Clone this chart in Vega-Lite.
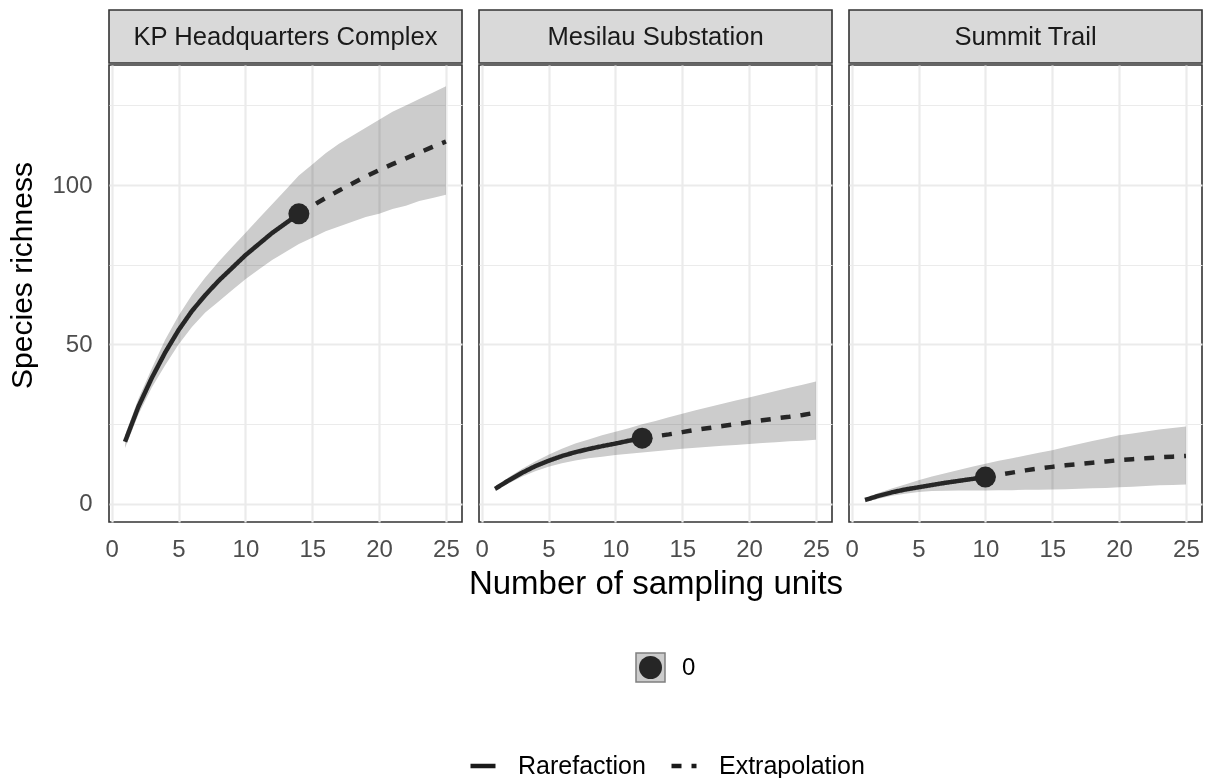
{
  "$schema": "https://vega.github.io/schema/vega-lite/v6.json",
  "padding": {"left": 7, "top": 9, "right": 5, "bottom": 0},
  "background": "white",
  "datasets": {
    "curves": [
      {"site": "KP Headquarters Complex", "m": 1, "qD": 19.5, "lo": 17.5, "hi": 21.5, "method": "Rarefaction"},
      {"site": "KP Headquarters Complex", "m": 2, "qD": 30.5, "lo": 28, "hi": 33, "method": "Rarefaction"},
      {"site": "KP Headquarters Complex", "m": 3, "qD": 39.5, "lo": 36.5, "hi": 42.5, "method": "Rarefaction"},
      {"site": "KP Headquarters Complex", "m": 4, "qD": 47.5, "lo": 43.5, "hi": 51.5, "method": "Rarefaction"},
      {"site": "KP Headquarters Complex", "m": 5, "qD": 54.5, "lo": 50, "hi": 59, "method": "Rarefaction"},
      {"site": "KP Headquarters Complex", "m": 6, "qD": 60.5, "lo": 55.5, "hi": 65.5, "method": "Rarefaction"},
      {"site": "KP Headquarters Complex", "m": 7, "qD": 65.5, "lo": 60, "hi": 71, "method": "Rarefaction"},
      {"site": "KP Headquarters Complex", "m": 8, "qD": 70, "lo": 63.5, "hi": 76, "method": "Rarefaction"},
      {"site": "KP Headquarters Complex", "m": 9, "qD": 74, "lo": 67, "hi": 80.5, "method": "Rarefaction"},
      {"site": "KP Headquarters Complex", "m": 10, "qD": 78, "lo": 70.5, "hi": 85, "method": "Rarefaction"},
      {"site": "KP Headquarters Complex", "m": 11, "qD": 81.5, "lo": 73.5, "hi": 89.5, "method": "Rarefaction"},
      {"site": "KP Headquarters Complex", "m": 12, "qD": 85, "lo": 76.5, "hi": 94, "method": "Rarefaction"},
      {"site": "KP Headquarters Complex", "m": 13, "qD": 88, "lo": 79, "hi": 98.5, "method": "Rarefaction"},
      {"site": "KP Headquarters Complex", "m": 14, "qD": 91, "lo": 81.5, "hi": 103, "method": "Rarefaction"},
      {"site": "KP Headquarters Complex", "m": 14, "qD": 91, "lo": 81.5, "hi": 103, "method": "Observed"},
      {"site": "KP Headquarters Complex", "m": 14, "qD": 91, "lo": 81.5, "hi": 103, "method": "Extrapolation"},
      {"site": "KP Headquarters Complex", "m": 15, "qD": 93.5, "lo": 83.5, "hi": 106.5, "method": "Extrapolation"},
      {"site": "KP Headquarters Complex", "m": 16, "qD": 96, "lo": 85.5, "hi": 110, "method": "Extrapolation"},
      {"site": "KP Headquarters Complex", "m": 17, "qD": 98.3, "lo": 87, "hi": 113, "method": "Extrapolation"},
      {"site": "KP Headquarters Complex", "m": 18, "qD": 100.5, "lo": 88.5, "hi": 115.5, "method": "Extrapolation"},
      {"site": "KP Headquarters Complex", "m": 19, "qD": 102.7, "lo": 90, "hi": 118, "method": "Extrapolation"},
      {"site": "KP Headquarters Complex", "m": 20, "qD": 104.7, "lo": 91, "hi": 120.5, "method": "Extrapolation"},
      {"site": "KP Headquarters Complex", "m": 21, "qD": 106.6, "lo": 92.5, "hi": 123, "method": "Extrapolation"},
      {"site": "KP Headquarters Complex", "m": 22, "qD": 108.4, "lo": 93.5, "hi": 125, "method": "Extrapolation"},
      {"site": "KP Headquarters Complex", "m": 23, "qD": 110.2, "lo": 95, "hi": 127, "method": "Extrapolation"},
      {"site": "KP Headquarters Complex", "m": 24, "qD": 112, "lo": 96, "hi": 129, "method": "Extrapolation"},
      {"site": "KP Headquarters Complex", "m": 25, "qD": 113.7, "lo": 97, "hi": 131, "method": "Extrapolation"},

      {"site": "Mesilau Substation", "m": 1, "qD": 4.7, "lo": 4.0, "hi": 5.4, "method": "Rarefaction"},
      {"site": "Mesilau Substation", "m": 2, "qD": 7.3, "lo": 6.4, "hi": 8.3, "method": "Rarefaction"},
      {"site": "Mesilau Substation", "m": 3, "qD": 9.7, "lo": 8.5, "hi": 10.9, "method": "Rarefaction"},
      {"site": "Mesilau Substation", "m": 4, "qD": 11.8, "lo": 10.2, "hi": 13.3, "method": "Rarefaction"},
      {"site": "Mesilau Substation", "m": 5, "qD": 13.5, "lo": 11.6, "hi": 15.4, "method": "Rarefaction"},
      {"site": "Mesilau Substation", "m": 6, "qD": 15.0, "lo": 12.7, "hi": 17.3, "method": "Rarefaction"},
      {"site": "Mesilau Substation", "m": 7, "qD": 16.2, "lo": 13.6, "hi": 18.9, "method": "Rarefaction"},
      {"site": "Mesilau Substation", "m": 8, "qD": 17.2, "lo": 14.3, "hi": 20.2, "method": "Rarefaction"},
      {"site": "Mesilau Substation", "m": 9, "qD": 18.1, "lo": 14.8, "hi": 21.5, "method": "Rarefaction"},
      {"site": "Mesilau Substation", "m": 10, "qD": 18.9, "lo": 15.3, "hi": 22.6, "method": "Rarefaction"},
      {"site": "Mesilau Substation", "m": 11, "qD": 19.8, "lo": 15.7, "hi": 23.7, "method": "Rarefaction"},
      {"site": "Mesilau Substation", "m": 12, "qD": 20.6, "lo": 16.1, "hi": 25.0, "method": "Rarefaction"},
      {"site": "Mesilau Substation", "m": 12, "qD": 20.6, "lo": 16.1, "hi": 25.0, "method": "Observed"},
      {"site": "Mesilau Substation", "m": 12, "qD": 20.6, "lo": 16.1, "hi": 25.0, "method": "Extrapolation"},
      {"site": "Mesilau Substation", "m": 13, "qD": 21.2, "lo": 16.5, "hi": 26.0, "method": "Extrapolation"},
      {"site": "Mesilau Substation", "m": 14, "qD": 21.8, "lo": 16.9, "hi": 27.2, "method": "Extrapolation"},
      {"site": "Mesilau Substation", "m": 15, "qD": 22.5, "lo": 17.3, "hi": 28.3, "method": "Extrapolation"},
      {"site": "Mesilau Substation", "m": 16, "qD": 23.2, "lo": 17.6, "hi": 29.4, "method": "Extrapolation"},
      {"site": "Mesilau Substation", "m": 17, "qD": 23.8, "lo": 17.9, "hi": 30.4, "method": "Extrapolation"},
      {"site": "Mesilau Substation", "m": 18, "qD": 24.4, "lo": 18.2, "hi": 31.4, "method": "Extrapolation"},
      {"site": "Mesilau Substation", "m": 19, "qD": 25.0, "lo": 18.5, "hi": 32.4, "method": "Extrapolation"},
      {"site": "Mesilau Substation", "m": 20, "qD": 25.6, "lo": 18.8, "hi": 33.4, "method": "Extrapolation"},
      {"site": "Mesilau Substation", "m": 21, "qD": 26.2, "lo": 19.1, "hi": 34.4, "method": "Extrapolation"},
      {"site": "Mesilau Substation", "m": 22, "qD": 26.8, "lo": 19.3, "hi": 35.4, "method": "Extrapolation"},
      {"site": "Mesilau Substation", "m": 23, "qD": 27.3, "lo": 19.6, "hi": 36.4, "method": "Extrapolation"},
      {"site": "Mesilau Substation", "m": 24, "qD": 27.9, "lo": 19.8, "hi": 37.4, "method": "Extrapolation"},
      {"site": "Mesilau Substation", "m": 25, "qD": 28.6, "lo": 20.1, "hi": 38.4, "method": "Extrapolation"},

      {"site": "Summit Trail", "m": 1, "qD": 1.2, "lo": 0.6, "hi": 1.8, "method": "Rarefaction"},
      {"site": "Summit Trail", "m": 2, "qD": 2.5, "lo": 1.6, "hi": 3.4, "method": "Rarefaction"},
      {"site": "Summit Trail", "m": 3, "qD": 3.6, "lo": 2.5, "hi": 4.8, "method": "Rarefaction"},
      {"site": "Summit Trail", "m": 4, "qD": 4.5, "lo": 3.2, "hi": 6.1, "method": "Rarefaction"},
      {"site": "Summit Trail", "m": 5, "qD": 5.2, "lo": 3.7, "hi": 7.4, "method": "Rarefaction"},
      {"site": "Summit Trail", "m": 6, "qD": 5.9, "lo": 4.0, "hi": 8.6, "method": "Rarefaction"},
      {"site": "Summit Trail", "m": 7, "qD": 6.6, "lo": 4.1, "hi": 9.6, "method": "Rarefaction"},
      {"site": "Summit Trail", "m": 8, "qD": 7.2, "lo": 4.2, "hi": 10.6, "method": "Rarefaction"},
      {"site": "Summit Trail", "m": 9, "qD": 7.8, "lo": 4.2, "hi": 11.6, "method": "Rarefaction"},
      {"site": "Summit Trail", "m": 10, "qD": 8.4, "lo": 4.2, "hi": 12.6, "method": "Rarefaction"},
      {"site": "Summit Trail", "m": 10, "qD": 8.4, "lo": 4.2, "hi": 12.6, "method": "Observed"},
      {"site": "Summit Trail", "m": 10, "qD": 8.4, "lo": 4.2, "hi": 12.6, "method": "Extrapolation"},
      {"site": "Summit Trail", "m": 11, "qD": 9.1, "lo": 4.3, "hi": 13.5, "method": "Extrapolation"},
      {"site": "Summit Trail", "m": 12, "qD": 9.8, "lo": 4.3, "hi": 14.3, "method": "Extrapolation"},
      {"site": "Summit Trail", "m": 13, "qD": 10.5, "lo": 4.4, "hi": 15.2, "method": "Extrapolation"},
      {"site": "Summit Trail", "m": 14, "qD": 11.1, "lo": 4.4, "hi": 16.0, "method": "Extrapolation"},
      {"site": "Summit Trail", "m": 15, "qD": 11.6, "lo": 4.5, "hi": 16.8, "method": "Extrapolation"},
      {"site": "Summit Trail", "m": 16, "qD": 12.1, "lo": 4.6, "hi": 17.8, "method": "Extrapolation"},
      {"site": "Summit Trail", "m": 17, "qD": 12.5, "lo": 4.7, "hi": 18.8, "method": "Extrapolation"},
      {"site": "Summit Trail", "m": 18, "qD": 12.9, "lo": 4.9, "hi": 19.7, "method": "Extrapolation"},
      {"site": "Summit Trail", "m": 19, "qD": 13.3, "lo": 5.0, "hi": 20.6, "method": "Extrapolation"},
      {"site": "Summit Trail", "m": 20, "qD": 13.7, "lo": 5.2, "hi": 21.5, "method": "Extrapolation"},
      {"site": "Summit Trail", "m": 21, "qD": 14.0, "lo": 5.4, "hi": 22.1, "method": "Extrapolation"},
      {"site": "Summit Trail", "m": 22, "qD": 14.3, "lo": 5.6, "hi": 22.7, "method": "Extrapolation"},
      {"site": "Summit Trail", "m": 23, "qD": 14.6, "lo": 5.8, "hi": 23.3, "method": "Extrapolation"},
      {"site": "Summit Trail", "m": 24, "qD": 14.8, "lo": 5.9, "hi": 23.8, "method": "Extrapolation"},
      {"site": "Summit Trail", "m": 25, "qD": 15.0, "lo": 6.1, "hi": 24.3, "method": "Extrapolation"}
    ]
  },
  "spacing": 4,
  "hconcat": [
    {
      "spacing": 0,
      "vconcat": [
        {
          "width": 353, "height": 53,
          "view": {"fill": "#d9d9d9", "stroke": "#333333", "strokeWidth": 1.6},
          "data": {"values": [{"site": "KP Headquarters Complex"}]},
          "mark": {"type": "text", "font": "Liberation Sans", "fontSize": 25.6, "color": "#1a1a1a"},
          "encoding": {"text": {"field": "site"}}
        },
        {
          "width": 353, "height": 457,
          "view": {"stroke": "#333333", "strokeWidth": 1.6},
          "data": {"name": "curves"},
          "transform": [{"filter": "datum.site === 'KP Headquarters Complex'"}],
          "layer": [
            {
              "mark": {"type": "area", "blend": "multiply"},
              "encoding": {
                "x": {"field": "m", "type": "quantitative", "title": null, "scale": {"domain": [-0.2, 26.2], "nice": false, "zero": false}, "axis": {"values": [0, 2.5, 5, 7.5, 10, 12.5, 15, 17.5, 20, 22.5, 25]}},
                "y": {"field": "lo", "type": "quantitative", "title": "Species richness", "scale": {"domain": [-5.7, 137.7], "nice": false, "zero": false}, "axis": {"values": [0, 25, 50, 75, 100, 125], "titleY": 210}},
                "y2": {"field": "hi"},
                "fill": {"datum": "0", "type": "nominal", "scale": {"range": ["#cccccc"]},
                  "legend": {"orient": "none", "legendX": 526, "legendY": 642, "title": null, "symbolType": "square", "symbolSize": 841, "labelExpr": "''", "labelFontSize": 24,
                    "encode": {"symbols": {"update": {"fill": {"value": "#cccccc"}, "stroke": {"value": "#7f7f7f"}, "strokeWidth": {"value": 1.5}, "opacity": {"value": 1}}}}}}
              }
            },
            {
              "transform": [{"filter": "datum.method !== 'Observed'"}],
              "mark": {"type": "line", "strokeWidth": 4.5, "color": "#262626"},
              "encoding": {
                "x": {"field": "m", "type": "quantitative", "title": null, "scale": {"domain": [-0.2, 26.2], "nice": false, "zero": false}},
                "y": {"field": "qD", "type": "quantitative", "title": "Species richness", "scale": {"domain": [-5.7, 137.7], "nice": false, "zero": false}},
                "strokeDash": {"field": "method", "type": "nominal", "scale": {"domain": ["Rarefaction", "Extrapolation"], "range": [[1, 0], [10, 10]]},
                  "legend": {"orient": "none", "direction": "horizontal", "legendX": 359, "legendY": 741, "title": null, "symbolType": "stroke", "symbolSize": 625, "symbolStrokeWidth": 4.5, "symbolStrokeColor": "#1a1a1a", "labelOffset": 20, "columnPadding": 16, "labelFontSize": 25,
                    "encode": {"symbols": {"update": {"stroke": {"value": "#1a1a1a"}, "strokeWidth": {"value": 4.5}}}}}}
              }
            },
            {
              "transform": [{"filter": "datum.method === 'Observed'"}],
              "mark": {"type": "point", "filled": true, "size": 441, "color": "#262626", "opacity": 1},
              "encoding": {
                "x": {"field": "m", "type": "quantitative", "title": null, "scale": {"domain": [-0.2, 26.2], "nice": false, "zero": false}},
                "y": {"field": "qD", "type": "quantitative", "title": "Species richness", "scale": {"domain": [-5.7, 137.7], "nice": false, "zero": false}},
                "shape": {"field": "method", "type": "nominal", "scale": {"range": ["circle"]},
                  "legend": {"orient": "none", "legendX": 529, "legendY": 645, "title": null, "symbolSize": 529, "labelExpr": "'0'", "labelOffset": 19, "labelFontSize": 24,
                    "encode": {"symbols": {"update": {"shape": {"value": "M-1,0A1,1 0 1,1 1,0A1,1 0 1,1 -1,0Z M-1.25,-0.17H1.25V0.17H-1.25Z"}, "fill": {"value": "#262626"}, "strokeWidth": {"value": 0}, "opacity": {"value": 1}}}}}}
              }
            }
          ]
        }
      ]
    },
    {
      "spacing": 0,
      "hconcat": [
        {
          "spacing": 0,
          "vconcat": [
            {
              "width": 353, "height": 53,
              "view": {"fill": "#d9d9d9", "stroke": "#333333", "strokeWidth": 1.6},
              "data": {"values": [{"site": "Mesilau Substation"}]},
              "mark": {"type": "text", "font": "Liberation Sans", "fontSize": 25.6, "color": "#1a1a1a"},
              "encoding": {"text": {"field": "site"}}
            },
            {
              "width": 353, "height": 457,
              "view": {"stroke": "#333333", "strokeWidth": 1.6},
              "data": {"name": "curves"},
              "transform": [{"filter": "datum.site === 'Mesilau Substation'"}],
              "layer": [
                {
                  "mark": {"type": "area", "blend": "multiply", "fill": "#cccccc"},
                  "encoding": {
                    "x": {"field": "m", "type": "quantitative", "title": "Number of sampling units", "scale": {"domain": [-0.2, 26.2], "nice": false, "zero": false}, "axis": {"values": [0, 2.5, 5, 7.5, 10, 12.5, 15, 17.5, 20, 22.5, 25]}},
                    "y": {"field": "lo", "type": "quantitative", "title": null, "scale": {"domain": [-5.7, 137.7], "nice": false, "zero": false}, "axis": {"values": [0, 25, 50, 75, 100, 125], "labels": false, "ticks": false}},
                    "y2": {"field": "hi"}
                  }
                },
                {
                  "transform": [{"filter": "datum.method !== 'Observed'"}],
                  "mark": {"type": "line", "strokeWidth": 4.5, "color": "#262626"},
                  "encoding": {
                    "x": {"field": "m", "type": "quantitative", "title": "Number of sampling units", "scale": {"domain": [-0.2, 26.2], "nice": false, "zero": false}},
                    "y": {"field": "qD", "type": "quantitative", "title": null, "scale": {"domain": [-5.7, 137.7], "nice": false, "zero": false}},
                    "strokeDash": {"field": "method", "type": "nominal", "scale": {"domain": ["Rarefaction", "Extrapolation"], "range": [[1, 0], [10, 10]]},
                      "legend": {"orient": "none", "direction": "horizontal", "legendX": 359, "legendY": 741, "title": null, "symbolType": "stroke", "symbolSize": 625, "symbolStrokeWidth": 4.5, "symbolStrokeColor": "#1a1a1a", "labelOffset": 20, "columnPadding": 16, "labelFontSize": 25,
                        "encode": {"symbols": {"update": {"stroke": {"value": "#1a1a1a"}, "strokeWidth": {"value": 4.5}}}}}}
                  }
                },
                {
                  "transform": [{"filter": "datum.method === 'Observed'"}],
                  "mark": {"type": "point", "filled": true, "size": 441, "color": "#262626", "opacity": 1, "shape": "circle"},
                  "encoding": {
                    "x": {"field": "m", "type": "quantitative", "title": "Number of sampling units", "scale": {"domain": [-0.2, 26.2], "nice": false, "zero": false}},
                    "y": {"field": "qD", "type": "quantitative", "title": null, "scale": {"domain": [-5.7, 137.7], "nice": false, "zero": false}}
                  }
                }
              ]
            }
          ]
        },
        {
          "spacing": 0,
          "vconcat": [
            {
              "width": 353, "height": 53,
              "view": {"fill": "#d9d9d9", "stroke": "#333333", "strokeWidth": 1.6},
              "data": {"values": [{"site": "Summit Trail"}]},
              "mark": {"type": "text", "font": "Liberation Sans", "fontSize": 25.6, "color": "#1a1a1a"},
              "encoding": {"text": {"field": "site"}}
            },
            {
              "width": 353, "height": 457,
              "view": {"stroke": "#333333", "strokeWidth": 1.6},
              "data": {"name": "curves"},
              "transform": [{"filter": "datum.site === 'Summit Trail'"}],
              "layer": [
                {
                  "mark": {"type": "area", "blend": "multiply", "fill": "#cccccc"},
                  "encoding": {
                    "x": {"field": "m", "type": "quantitative", "title": null, "scale": {"domain": [-0.2, 26.2], "nice": false, "zero": false}, "axis": {"values": [0, 2.5, 5, 7.5, 10, 12.5, 15, 17.5, 20, 22.5, 25]}},
                    "y": {"field": "lo", "type": "quantitative", "title": null, "scale": {"domain": [-5.7, 137.7], "nice": false, "zero": false}, "axis": {"values": [0, 25, 50, 75, 100, 125], "labels": false, "ticks": false}},
                    "y2": {"field": "hi"}
                  }
                },
                {
                  "transform": [{"filter": "datum.method !== 'Observed'"}],
                  "mark": {"type": "line", "strokeWidth": 4.5, "color": "#262626"},
                  "encoding": {
                    "x": {"field": "m", "type": "quantitative", "title": null, "scale": {"domain": [-0.2, 26.2], "nice": false, "zero": false}},
                    "y": {"field": "qD", "type": "quantitative", "title": null, "scale": {"domain": [-5.7, 137.7], "nice": false, "zero": false}},
                    "strokeDash": {"field": "method", "type": "nominal", "scale": {"domain": ["Rarefaction", "Extrapolation"], "range": [[1, 0], [10, 10]]},
                      "legend": {"orient": "none", "direction": "horizontal", "legendX": 359, "legendY": 741, "title": null, "symbolType": "stroke", "symbolSize": 625, "symbolStrokeWidth": 4.5, "symbolStrokeColor": "#1a1a1a", "labelOffset": 20, "columnPadding": 16, "labelFontSize": 25,
                        "encode": {"symbols": {"update": {"stroke": {"value": "#1a1a1a"}, "strokeWidth": {"value": 4.5}}}}}}
                  }
                },
                {
                  "transform": [{"filter": "datum.method === 'Observed'"}],
                  "mark": {"type": "point", "filled": true, "size": 441, "color": "#262626", "opacity": 1, "shape": "circle"},
                  "encoding": {
                    "x": {"field": "m", "type": "quantitative", "title": null, "scale": {"domain": [-0.2, 26.2], "nice": false, "zero": false}},
                    "y": {"field": "qD", "type": "quantitative", "title": null, "scale": {"domain": [-5.7, 137.7], "nice": false, "zero": false}}
                  }
                }
              ]
            }
          ]
        }
      ]
    }
  ],
  "config": {
    "font": "Liberation Sans",
    "axis": {
      "domain": false, "grid": true, "gridColor": "#ebebeb",
      "tickColor": "#333333", "tickWidth": 2, "tickSize": 7,
      "labelFont": "Liberation Sans", "labelFontSize": 24, "labelColor": "#4d4d4d",
      "titleFont": "Liberation Sans", "titleColor": "#000000", "titleFontWeight": "normal",
      "labelFlush": false, "labelOverlap": false
    },
    "axisX": {
      "gridWidth": {"condition": {"test": "datum.value % 5 === 0", "value": 2.2}, "value": 1.1},
      "tickOpacity": {"condition": {"test": "datum.value % 5 === 0", "value": 1}, "value": 0},
      "labelExpr": "datum.value % 5 === 0 ? datum.label : ''",
      "labelPadding": 8, "titleFontSize": 33, "titlePadding": 6
    },
    "axisY": {
      "gridWidth": {"condition": {"test": "datum.value % 50 === 0", "value": 2.2}, "value": 1.1},
      "tickOpacity": {"condition": {"test": "datum.value % 50 === 0", "value": 1}, "value": 0},
      "labelExpr": "datum.value % 50 === 0 ? datum.label : ''",
      "labelPadding": 10, "titleFontSize": 30, "titlePadding": 14
    },
    "legend": {"labelFont": "Liberation Sans", "labelColor": "#000000", "padding": 0}
  }
}
